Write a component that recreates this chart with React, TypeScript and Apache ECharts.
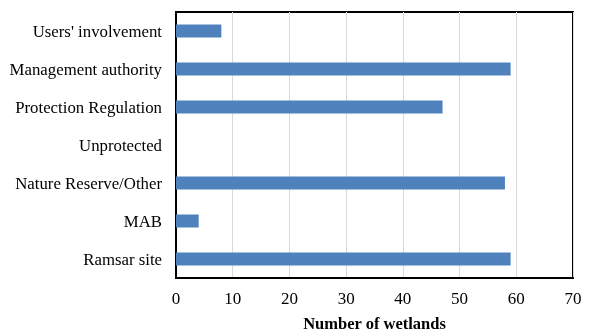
import React, { useEffect, useRef } from "react";
import * as echarts from "echarts";

const categories = [
  "Users' involvement",
  "Management authority",
  "Protection Regulation",
  "Unprotected",
  "Nature Reserve/Other",
  "MAB",
  "Ramsar site",
];
const values = [8, 59, 47, 0, 58, 4, 59];
const xTicks = [0, 10, 20, 30, 40, 50, 60, 70];
const xTitle = "Number of wetlands";

export default function App() {
  const ref = useRef<HTMLDivElement>(null);
  useEffect(() => {
    const chart = echarts.init(ref.current!, null, { renderer: "svg" });
    const font = "'Liberation Serif', 'Times New Roman', serif";
    chart.setOption({
      animation: false,
      grid: {
        left: 176,
        right: 19,
        top: 12,
        bottom: 58,
        outerBoundsMode: "none",
        containLabel: false,
        show: true,
        borderColor: "#000",
        borderWidth: 2,
        backgroundColor: "transparent",
      },
      xAxis: {
        type: "value",
        min: xTicks[0],
        max: xTicks[xTicks.length - 1],
        interval: 10,
        name: xTitle,
        nameLocation: "middle",
        nameGap: 37,
        nameTextStyle: { fontFamily: font, fontSize: 16.5, fontWeight: "bold", color: "#000" },
        axisLine: { show: true, lineStyle: { color: "#000", width: 2 } },
        axisTick: { show: false },
        axisLabel: { fontFamily: font, fontSize: 17, color: "#000", margin: 12 },
        splitLine: { show: true, lineStyle: { color: "#d9d9d9", width: 1 } },
      },
      yAxis: {
        type: "category",
        inverse: true,
        data: categories,
        axisLine: { show: true, lineStyle: { color: "#000", width: 2 } },
        axisTick: { show: false },
        axisLabel: { fontFamily: font, fontSize: 16.8, color: "#000", margin: 14 },
        splitLine: { show: false },
      },
      series: [
        {
          type: "bar",
          data: values,
          barWidth: 13,
          itemStyle: { color: "#4f81bd" },
        },
      ],
    });
    return () => chart.dispose();
  }, []);
  return (
    <div
      ref={ref}
      style={{ position: "fixed", left: 0, top: 0, width: 592, height: 336 }}
    />
  );
}
